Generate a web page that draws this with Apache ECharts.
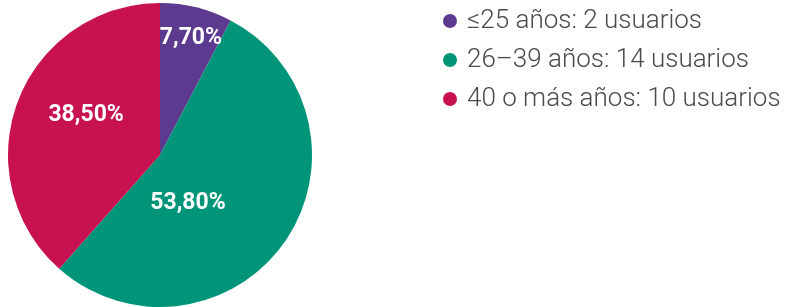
<!DOCTYPE html>
<html>
<head>
<meta charset="utf-8">
<script src="https://cdn.jsdelivr.net/npm/echarts@6/dist/echarts.min.js"></script>
<style>
  html, body { margin: 0; padding: 0; background: #fff; }
  #chart { width: 791px; height: 307px; }
</style>
</head>
<body>
<div id="chart"></div>
<script>
var categories = ['≤25 años', '26–39 años', '40 o más años'];
var usuarios = [2, 14, 10];
var porcentajes = ['7,70%', '53,80%', '38,50%'];
var colores = ['#5c3a8f', '#009579', '#c81150'];
// nudges so the labels sit where the original puts them
var labelOffsets = [[12, -40], [-37, 3], [0, -12]];

var chart = echarts.init(document.getElementById('chart'));

var seriesData = categories.map(function (name, i) {
    return {
        name: name,
        value: usuarios[i],
        itemStyle: { color: colores[i] },
        label: { offset: labelOffsets[i] }
    };
});

var option = {
    animation: false,
    legend: {
        orient: 'vertical',
        left: 438,
        top: 3,
        icon: 'circle',
        itemWidth: 14,
        itemHeight: 14,
        itemGap: 13,
        data: categories,
        formatter: function (name) {
            var i = categories.indexOf(name);
            return name + ': ' + usuarios[i] + ' usuarios';
        },
        textStyle: {
            fontFamily: 'Roboto',
            fontWeight: 300,
            fontSize: 26,
            lineHeight: 24,
            color: '#4a4a4a',
            padding: [0, 0, 0, 5]
        }
    },
    series: [{
        type: 'pie',
        center: [160, 155],
        radius: 152,
        startAngle: 90,
        clockwise: true,
        silent: true,
        data: seriesData,
        label: {
            position: 'inside',
            fontFamily: 'Roboto',
            fontWeight: 'bold',
            fontSize: 23,
            color: '#fff',
            formatter: function (p) {
                return porcentajes[p.dataIndex];
            }
        },
        labelLine: { show: false },
        itemStyle: { borderWidth: 0 }
    }]
};

chart.setOption(option);
</script>
</body>
</html>
